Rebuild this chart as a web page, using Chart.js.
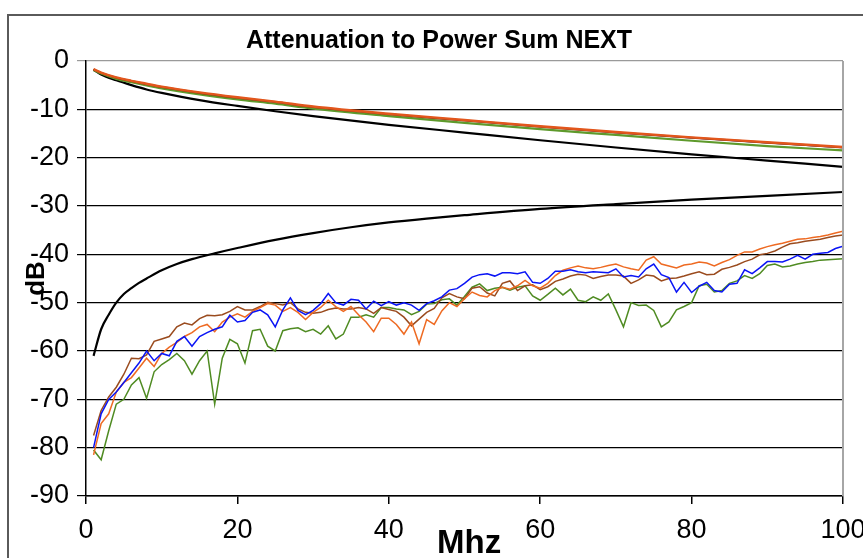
<!DOCTYPE html>
<html>
<head>
<meta charset="utf-8">
<script src="https://cdn.jsdelivr.net/npm/chart.js@4.4.1/dist/chart.umd.min.js"></script>
<style>
  html, body { margin: 0; padding: 0; background: #fff; }
  #wrap { width: 863px; height: 558px; position: relative; }
</style>
</head>
<body>
<div id="wrap"><canvas id="myChart" width="863" height="558"></canvas></div>
<script>
// frequency points (MHz) for the measured NEXT traces
const freqMHz = [1,2,3,4,5,6,7,8,9,10,11,12,13,14,15,16,17,18,19,20,
    21,22,23,24,25,26,27,28,29,30,31,32,33,34,35,36,37,38,39,40,
    41,42,43,44,45,46,47,48,49,50,51,52,53,54,55,56,57,58,59,60,
    61,62,63,64,65,66,67,68,69,70,71,72,73,74,75,76,77,78,79,80,
    81,82,83,84,85,86,87,88,89,90,91,92,93,94,95,96,97,98,99,100]

const nextBlue = [-80,-73,-70,-68.5,-66.5,-64.5,-62.5,-60,-62,-60.5,
    -61,-58,-57,-59,-57,-56.2,-55.5,-55,-52.6,-54,
    -53.7,-52,-51.5,-52.5,-55,-51.5,-49,-51.6,-52.5,-51.6,
    -50.2,-48.1,-50,-50.5,-49.3,-49.5,-51.3,-49.7,-50.6,-49.8,
    -50.5,-50,-50.5,-51.6,-50.2,-49.6,-48.8,-47.4,-47.1,-46,
    -44.7,-44.2,-44,-44.5,-43.8,-43.8,-44,-43.6,-45.8,-46,
    -45,-43.5,-43.5,-43.2,-43.6,-43.8,-43.6,-43.7,-43.8,-43,
    -44.7,-44.4,-44.7,-43,-42,-44.2,-44.8,-47.8,-45.8,-47.9,
    -46.6,-45.8,-47.5,-47.8,-46.2,-46,-43.2,-44,-42.8,-41.5,
    -41.5,-41.6,-41,-40.2,-41,-40,-39.8,-39.6,-38.8,-38.3]

const nextOrange = [-81.5,-75,-73,-68.5,-66.5,-65.5,-63.5,-61.5,-63.2,-60.5,
    -59.2,-58.2,-57,-56.2,-55,-54.5,-56,-54,-53,-52.3,
    -53,-51.8,-51,-50.2,-50.5,-51.8,-51,-52,-53.5,-52,
    -51,-49.5,-50.8,-51.8,-50.8,-52.5,-54,-56,-53.2,-53.2,
    -54.5,-56.5,-54,-58.5,-53.5,-54.5,-51.7,-50,-50.8,-49.2,
    -47.8,-48.5,-48.8,-47.5,-46.8,-47.2,-46.5,-45.4,-46.5,-47,
    -46,-44.4,-43.3,-42.8,-42.4,-42.8,-43,-42.7,-42.3,-42,
    -42.6,-43,-43.3,-41.2,-40.5,-42,-42.4,-42.8,-42.2,-42,
    -41.6,-41.8,-42.4,-41.7,-41.1,-40.2,-39.5,-39.5,-38.9,-38.4,
    -38,-37.7,-37.3,-36.9,-36.8,-36.5,-36.3,-36,-35.6,-35.2]

const nextBrown = [-77.5,-72.3,-69.5,-67.5,-64.8,-61.5,-61.6,-60.8,-58,-57.5,
    -57,-55,-54.2,-54.6,-53.3,-52.6,-52.7,-52.5,-51.8,-50.8,
    -51.5,-51.5,-50.8,-49.9,-50.2,-50.5,-50,-51.3,-52,-52.2,
    -52,-51.4,-51.1,-51.3,-51.3,-51,-51.3,-52.2,-51,-51.4,
    -51.8,-53,-54.8,-53.4,-52,-51.2,-49,-48.1,-48.8,-49.2,
    -47,-46.7,-48,-48.6,-46,-45.5,-47.5,-46.5,-46.3,-47.3,
    -46.7,-45.6,-45.1,-44.5,-44.1,-44.3,-45,-44.6,-44.3,-44.3,
    -44.5,-46,-45.3,-44.3,-44.5,-45.5,-45,-44.9,-44.5,-44,
    -43.6,-44.2,-44.1,-43.1,-42.7,-42.2,-41.5,-41,-40.1,-39.8,
    -39.3,-38.5,-37.8,-37.6,-37.3,-37.1,-36.9,-36.5,-36.2,-36]

const nextGreen = [-80.5,-82.5,-76.5,-71,-70,-67,-65.5,-69.8,-64.3,-62.8,
    -61.8,-60.5,-62,-64.8,-62,-60,-71,-61.5,-57.6,-58.5,
    -62.5,-55.8,-55.5,-59,-60,-55.8,-55.4,-55.2,-56,-55.5,
    -56.5,-54.8,-57.5,-56.5,-53,-53,-52.5,-53,-51,-51,
    -51.3,-51.5,-52.5,-51.8,-50.3,-50.2,-49.4,-49.2,-50.5,-48.7,
    -46.8,-46.1,-47.5,-47,-46.8,-47.4,-46.8,-46.5,-48.6,-49.5,
    -48.3,-47,-48.4,-47.2,-49.5,-49.8,-48.8,-49.5,-48.2,-51.5,
    -55,-50,-50.6,-50.5,-51.6,-55,-54,-51.5,-50.8,-50,
    -46.5,-46.2,-47.8,-47.5,-46,-45.5,-44.4,-45,-44,-42.3,
    -42,-42.6,-42.4,-42,-41.7,-41.5,-41.2,-41.1,-41,-40.9]

// insertion loss traces and the attenuation limit
const attFreq = [1,2,4,6,8,10,15,20,25,30,40,50,60,70,80,90,100]
const attOrange = [-1.7,-2.4,-3.4,-4.1,-4.7,-5.3,-6.5,-7.5,-8.4,-9.4,-10.9,-12.2,-13.5,-14.7,-15.8,-16.8,-17.8]
const attBrown = [-1.75,-2.45,-3.45,-4.15,-4.8,-5.4,-6.6,-7.6,-8.5,-9.5,-11,-12.3,-13.6,-14.8,-15.9,-16.9,-17.9]
const attBlue = [-1.75,-2.45,-3.45,-4.15,-4.8,-5.4,-6.6,-7.6,-8.5,-9.5,-11,-12.3,-13.6,-14.8,-15.9,-16.95,-17.95]
const attGreen = [-1.85,-2.6,-3.7,-4.4,-5.05,-5.65,-6.9,-7.95,-8.85,-9.85,-11.4,-12.8,-14.1,-15.3,-16.5,-17.6,-18.5]
const attLimit = [-1.8,-2.8,-4,-5,-5.9,-6.6,-8.1,-9.3,-10.4,-11.4,-13.2,-14.8,-16.4,-17.9,-19.3,-20.6,-21.9]

// power sum NEXT limit
const nextLimitFreq = [1,2,3,4,5,6,7,8,10,12,14,17,20,25,30,35,40,45,50,60,70,80,90,100]
const nextLimit = [-61,-55.5,-52.5,-50,-48.2,-47,-45.9,-45,-43.3,-42,-41,-39.8,-38.7,-37,-35.6,-34.4,-33.4,-32.6,-31.9,-30.6,-29.6,-28.7,-27.9,-27.1]

const xTicks = [0, 20, 40, 60, 80, 100]
const yTicks = [0, -10, -20, -30, -40, -50, -60, -70, -80, -90]

const toPoints = (xs, ys) => xs.map((x, i) => ({ x: x, y: ys[i] }))

const noisy = (label, xs, ys, color) => ({
    label: label,
    data: toPoints(xs, ys),
    borderColor: color,
    borderWidth: 1.5,
    pointRadius: 0,
    tension: 0,
    fill: false
})

const smooth = (label, xs, ys, color, width) => ({
    label: label,
    data: toPoints(xs, ys),
    borderColor: color,
    borderWidth: width,
    pointRadius: 0,
    cubicInterpolationMode: 'monotone',
    fill: false
})

const framePlugin = {
    id: 'frame',
    beforeDraw(chart) {
        const ctx = chart.ctx
        ctx.save()
        ctx.fillStyle = '#fff'
        ctx.fillRect(0, 0, chart.width, chart.height)
        ctx.strokeStyle = '#5a5a5a'
        ctx.lineWidth = 2
        ctx.strokeRect(8, 15, 900, 600)
        ctx.restore()
    },
    afterDatasetsDraw(chart) {
        const { ctx, chartArea } = chart
        ctx.save()
        ctx.strokeStyle = '#a6a6a6'
        ctx.lineWidth = 2
        ctx.beginPath()
        ctx.moveTo(chartArea.right, chartArea.top)
        ctx.lineTo(chartArea.right, chartArea.bottom)
        ctx.stroke()
        ctx.restore()
    }
}

const family = '"Liberation Sans", Arial, sans-serif'
const tickFont = { family: family, size: 27 }

// Chart.js paints the first dataset on top, so the topmost traces come first
const ctx = document.getElementById('myChart').getContext('2d')
new Chart(ctx, {
    type: 'line',
    data: {
        datasets: [
            smooth('Pair 3 attenuation', attFreq, attOrange, '#e2561c', 2.4),
            smooth('Pair 2 attenuation', attFreq, attBrown, '#8b3a10', 2),
            smooth('Pair 1 attenuation', attFreq, attGreen, '#5e9a2c', 2.2),
            smooth('Pair 4 attenuation', attFreq, attBlue, '#1a2be0', 1.2),
            smooth('Attenuation limit', attFreq, attLimit, '#000000', 2.2),
            smooth('PSNEXT limit', nextLimitFreq, nextLimit, '#000000', 2.2),
            noisy('Pair 4 PSNEXT (blue)', freqMHz, nextBlue, '#0a14f5'),
            noisy('Pair 3 PSNEXT (orange)', freqMHz, nextOrange, '#ee6a22'),
            noisy('Pair 2 PSNEXT (brown)', freqMHz, nextBrown, '#9a4b1e'),
            noisy('Pair 1 PSNEXT (green)', freqMHz, nextGreen, '#4f8b22')
        ]
    },
    options: {
        responsive: false,
        animation: false,
        layout: { padding: { left: 15, right: 0, top: 0, bottom: 0 } },
        scales: {
            x: {
                type: 'linear',
                min: 0,
                max: 100,
                afterBuildTicks: (scale) => { scale.ticks = xTicks.map(v => ({ value: v })) },
                afterFit: (scale) => { scale.height = 62; scale.paddingRight = 20 },
                ticks: { color: '#000', font: tickFont, padding: 10, maxRotation: 0 },
                grid: { drawOnChartArea: false, drawTicks: true, tickLength: 8, color: '#000', lineWidth: 1.5 },
                border: { color: '#000', width: 1.5 },
                title: { display: true, text: ' Mhz', color: '#000', font: { family: family, size: 33, weight: 'bold' }, padding: { top: 0, bottom: -6 } }
            },
            y: {
                type: 'linear',
                min: -90,
                max: 0,
                afterBuildTicks: (scale) => { scale.ticks = yTicks.map(v => ({ value: v })) },
                afterFit: (scale) => { scale.width = 71 },
                ticks: { color: '#000', font: tickFont, padding: 8 },
                grid: {
                    color: (c) => (c.tick && c.tick.value === 0) ? '#9a9a9a' : '#000',
                    lineWidth: 1.2,
                    tickLength: 9
                },
                border: { color: '#000', width: 1.5 },
                title: { display: true, text: 'dB', color: '#000', font: { family: family, size: 26, weight: 'bold' }, padding: { top: 6, bottom: 0 } }
            }
        },
        plugins: {
            legend: { display: false },
            tooltip: { enabled: false },
            title: {
                display: true,
                text: 'Attenuation to Power Sum NEXT',
                color: '#000',
                font: { family: family, size: 25, weight: 'bold' },
                padding: { top: 26, bottom: 5 }
            }
        }
    },
    plugins: [framePlugin]
})
</script>
</body>
</html>
